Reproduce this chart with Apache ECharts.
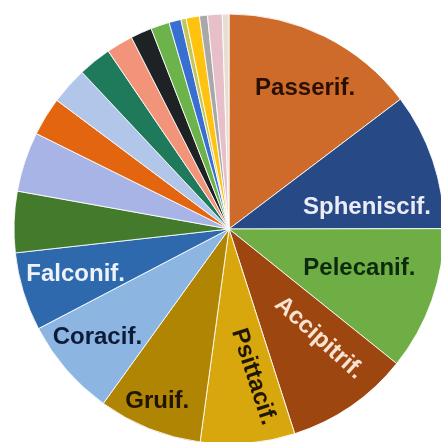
<!DOCTYPE html>
<html>
<head>
<meta charset="utf-8">
<script src="https://cdn.jsdelivr.net/npm/echarts@6/dist/echarts.min.js"></script>
<style>
  html, body { margin: 0; padding: 0; background: #ffffff; }
  #chart { width: 441px; height: 442px; }
</style>
</head>
<body>
<div id="chart"></div>
<script>
// Share of species by bird order (%), clockwise from 12 o'clock
const orders = [
  'Passerif.', 'Spheniscif.', 'Pelecanif.', 'Accipitrif.', 'Psittacif.',
  'Gruif.', 'Coracif.', 'Falconif.',
  'Other 1', 'Other 2', 'Other 3', 'Other 4', 'Other 5', 'Other 6', 'Other 7',
  'Other 8', 'Other 9', 'Other 10', 'Other 11', 'Other 12', 'Other 13', 'Other 14'
];
const shares = [
  14.7, 10.3, 10.8, 9.3, 7.1,
  7.8, 7.4, 5.9,
  4.6, 4.5, 2.9, 2.8, 2.5, 2.0, 1.6,
  1.4, 0.9, 0.4, 1.0, 0.6, 1.1, 0.5
];

const sliceColors = [
  '#CE6A2A', '#274985', '#6EAE45', '#9E460F', '#D8A70D',
  '#AF8503', '#8DB5E2', '#2E69AE',
  '#437A2C', '#A9B4E6', '#E3650F', '#B2C6EA', '#1F7A5C', '#F19479', '#1E2224',
  '#6BB34A', '#386FD1', '#C4C65C', '#FFC20E', '#A8A8A8', '#E6BFC8', '#E8DDD2'
];

// Label look per named order: text colour, nudge (in the text's own rotated frame), rotation
const labelStyle = {
  'Passerif.':   { color: '#2A1000', offset: [8, -4],  rotate: 0 },
  'Spheniscif.': { color: '#ECECF8', offset: [-7, 27], rotate: 0 },
  'Pelecanif.':  { color: '#0E2A0E', offset: [-14, -11], rotate: 0 },
  'Accipitrif.': { color: '#F8E2D2', offset: [-9, -15], rotate: -42 },
  'Psittacif.':  { color: '#1E1600', offset: [-1, -12], rotate: -72 },
  'Gruif.':      { color: '#1F1500', offset: [-15, 30], rotate: 0 },
  'Coracif.':    { color: '#0C1C38', offset: [-16, 8],  rotate: 0 },
  'Falconif.':   { color: '#EEF2FA', offset: [-7, 1],  rotate: 0 }
};

const CENTER = [229, 229];
const RADIUS = 215;

const sliceData = orders.map((name, i) => ({
  name: name,
  value: shares[i],
  itemStyle: { color: sliceColors[i] }
}));

// Transparent twin pie used only to place the order names further out
const labelData = orders.map((name, i) => {
  const st = labelStyle[name];
  return {
    name: name,
    value: shares[i],
    itemStyle: { color: 'rgba(0,0,0,0)', borderWidth: 0 },
    label: st ? {
      show: true,
      color: st.color,
      offset: st.offset,
      rotate: st.rotate
    } : { show: false }
  };
});

const chart = echarts.init(document.getElementById('chart'), null, { renderer: 'canvas' });
chart.setOption({
  backgroundColor: '#ffffff',
  animation: false,
  series: [
    {
      type: 'pie',
      center: CENTER,
      radius: [0, RADIUS],
      startAngle: 90,
      clockwise: true,
      silent: true,
      label: { show: false },
      labelLine: { show: false },
      itemStyle: { borderColor: 'rgba(255,255,255,0.85)', borderWidth: 1 },
      data: sliceData
    },
    {
      type: 'pie',
      center: CENTER,
      radius: [0, 300],
      startAngle: 90,
      clockwise: true,
      silent: true,
      z: 5,
      labelLine: { show: false },
      label: {
        position: 'inside',
        formatter: '{b}',
        fontFamily: '"Liberation Sans", Arial, sans-serif',
        fontWeight: 'bold',
        fontSize: 24
      },
      data: labelData
    }
  ]
});
</script>
</body>
</html>
